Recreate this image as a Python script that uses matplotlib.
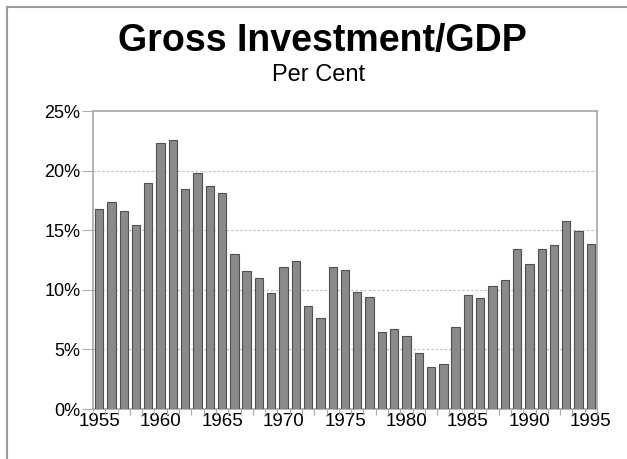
import matplotlib
matplotlib.use('Agg')
import matplotlib.pyplot as plt
import numpy as np
from matplotlib.lines import Line2D

years = list(range(1955, 1996))
invest_pct = [16.75, 17.4, 16.6, 15.45, 19.0, 22.3, 22.55, 18.45, 19.8, 18.75,
              18.15, 13.0, 11.55, 11.0, 9.75, 11.95, 12.4, 8.65, 7.6, 11.95,
              11.65, 9.8, 9.4, 6.45, 6.7, 6.1, 4.7, 3.5, 3.75, 6.85,
              9.55, 9.3, 10.35, 10.8, 13.4, 12.2, 13.4, 13.75, 15.75, 14.95,
              13.85]
y_ticks = [0, 5, 10, 15, 20, 25]
label_years = [1955, 1960, 1965, 1970, 1975, 1980, 1985, 1990, 1995]

plt.rcParams['font.family'] = ['Liberation Sans', 'DejaVu Sans']

W, H = 627, 459
fig = plt.figure(figsize=(W / 100, H / 100), dpi=100)
fig.patch.set_facecolor('white')

ax = fig.add_axes([93 / W, 50 / H, 504 / W, 298 / H])
x = np.arange(len(years))
ax.bar(x, invest_pct, width=0.68, color='#8a8a8a', edgecolor='#505050',
       linewidth=0.8, zorder=3)

ax.set_xlim(-0.5, len(years) - 0.5)
ax.set_ylim(0, 25)
ax.set_yticks(y_ticks)
ax.set_yticklabels(['{}%'.format(v) for v in y_ticks], fontsize=13)
for v in y_ticks[1:-1]:
    ax.axhline(v, color='#bdbdbd', linestyle=(0, (2, 2)), linewidth=0.8,
               zorder=1)

ax.set_xticks([years.index(yr) for yr in label_years])
ax.set_xticklabels([str(yr) for yr in label_years], fontsize=13.5)
ax.set_xticks(np.arange(len(years) + 1) - 0.5, minor=True)
ax.tick_params(axis='x', which='major', length=0, pad=3)
ax.tick_params(axis='x', which='minor', length=4, color='#a8a8a8',
               width=0.8)
ax.tick_params(axis='y', length=8, color='#b0b0b0', width=0.8, pad=1)

for side in ['left', 'right', 'top', 'bottom']:
    ax.spines[side].set_color('#a8a8a8')
    ax.spines[side].set_linewidth(1.2)

fig.text(322 / W, 1 - 51 / H, 'Gross Investment/GDP', ha='center',
         va='baseline', fontsize=27, fontweight='bold')
fig.text(319 / W, 1 - 81 / H, 'Per Cent', ha='center', va='baseline',
         fontsize=17)

# outer chart border (top and left only)
fig.add_artist(Line2D([7 / W, 1], [1 - 7 / H, 1 - 7 / H],
                      transform=fig.transFigure, color='#9a9a9a', lw=1.5))
fig.add_artist(Line2D([7 / W, 7 / W], [0, 1 - 7 / H],
                      transform=fig.transFigure, color='#9a9a9a', lw=1.5))

fig.savefig('out.png', dpi=100)
